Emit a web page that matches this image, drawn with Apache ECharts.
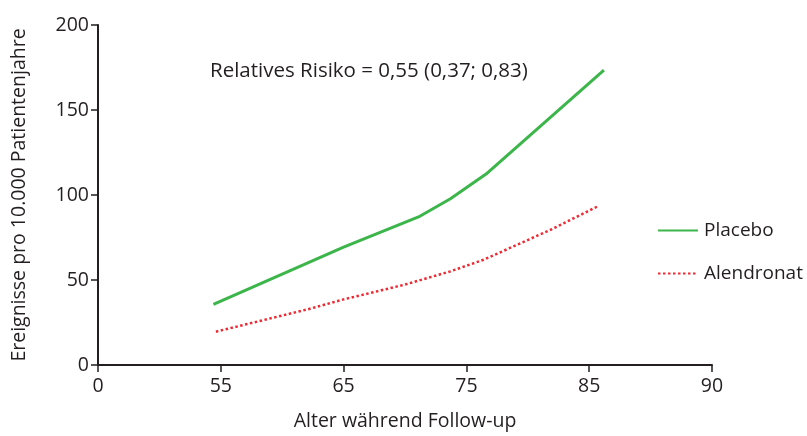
<!DOCTYPE html>
<html>
<head>
<meta charset="utf-8" />
<title></title>
<style type="text/css">
  body, html, #main {width: 100%; height: 100%; margin: 0; overflow: hidden; background: #fff;}
</style>
<script src="https://cdn.jsdelivr.net/npm/echarts@6/dist/echarts.min.js"></script>
</head>
<body>
<div id="main"></div>
<script type="text/javascript">
// Achsen-Beschriftungen (x-Achse ist nicht linear: Ticks gleich verteilt)
var xTicks = [0, 55, 65, 75, 85, 90];
var yTicks = [0, 50, 100, 150, 200];

// [Alter, Ereignisse pro 10.000 Patientenjahre]
var placebo = [[54.4, 35.7], [65, 69.3], [71.1, 87.1], [73.7, 97.8], [76.6, 112.3], [85.6, 173.5]];
var alendronat = [[54.6, 19.6], [62.1, 32.8], [65, 38.6], [70, 47.3], [73.7, 55.1], [76.4, 61.9], [79.4, 71.6], [81.9, 79.7], [85.4, 93.7]];

var txt = '#231f20';
var font = 'Open Sans';

// Alter -> Position auf der Achse (ein Abschnitt je Tick)
function slot(age) {
    if (age < xTicks[1]) {
        return 1 + (age - xTicks[1]) / (xTicks[2] - xTicks[1]);
    }
    for (var i = 1; i < xTicks.length - 1; i++) {
        if (age <= xTicks[i + 1]) {
            return i + (age - xTicks[i]) / (xTicks[i + 1] - xTicks[i]);
        }
    }
    return xTicks.length - 1;
}
function toSlots(arr) {
    return arr.map(function (p) { return [slot(p[0]), p[1]]; });
}

var chart = echarts.init(document.getElementById('main'));
var option = {
    animation: false,
    textStyle: {fontFamily: font},
    grid: {left: 98, right: 95, top: 25, bottom: 67, containLabel: false},
    legend: {
        orient: 'vertical',
        left: 652,
        top: 216,
        itemWidth: 40,
        itemHeight: 14,
        itemGap: 24,
        itemStyle: {opacity: 0},
        textStyle: {color: txt, fontSize: 19, fontFamily: font, padding: [0, 0, 0, 1]},
        data: ['Placebo', 'Alendronat']
    },
    graphic: [{
        type: 'text',
        left: 210,
        top: 61,
        style: {text: 'Relatives Risiko = 0,55 (0,37; 0,83)', fill: txt, font: '20.5px "' + font + '"'}
    }],
    xAxis: {
        type: 'value',
        min: 0,
        max: xTicks.length - 1,
        interval: 1,
        name: 'Alter während Follow-up',
        nameLocation: 'middle',
        nameGap: 46,
        nameTextStyle: {color: txt, fontSize: 19.5, fontFamily: font},
        axisLine: {show: true, lineStyle: {color: txt, width: 2}},
        axisTick: {show: true, length: 7, lineStyle: {color: txt, width: 1.5}},
        axisLabel: {
            color: txt, fontSize: 19.5, margin: 11,
            formatter: function (v) { return String(xTicks[Math.round(v)]); }
        },
        splitLine: {show: false}
    },
    yAxis: {
        type: 'value',
        min: yTicks[0],
        max: yTicks[yTicks.length - 1],
        interval: 50,
        name: 'Ereignisse pro 10.000 Patientenjahre',
        nameLocation: 'middle',
        nameGap: 69,
        nameTextStyle: {color: txt, fontSize: 19.5, fontFamily: font},
        axisLine: {show: true, lineStyle: {color: txt, width: 2}},
        axisTick: {show: true, length: 7, lineStyle: {color: txt, width: 1.5}},
        axisLabel: {color: txt, fontSize: 19.5, margin: 9},
        splitLine: {show: false}
    },
    series: [
        {
            name: 'Placebo',
            type: 'line',
            data: toSlots(placebo),
            symbol: 'none',
            color: '#3cb54a',
            lineStyle: {color: '#3cb54a', width: 3}
        },
        {
            name: 'Alendronat',
            type: 'line',
            data: toSlots(alendronat),
            symbol: 'none',
            color: '#ee2a33',
            lineStyle: {color: '#ee2a33', width: 2.5, type: [2.5, 2.5]}
        }
    ]
};
chart.setOption(option);
</script>
</body>
</html>
